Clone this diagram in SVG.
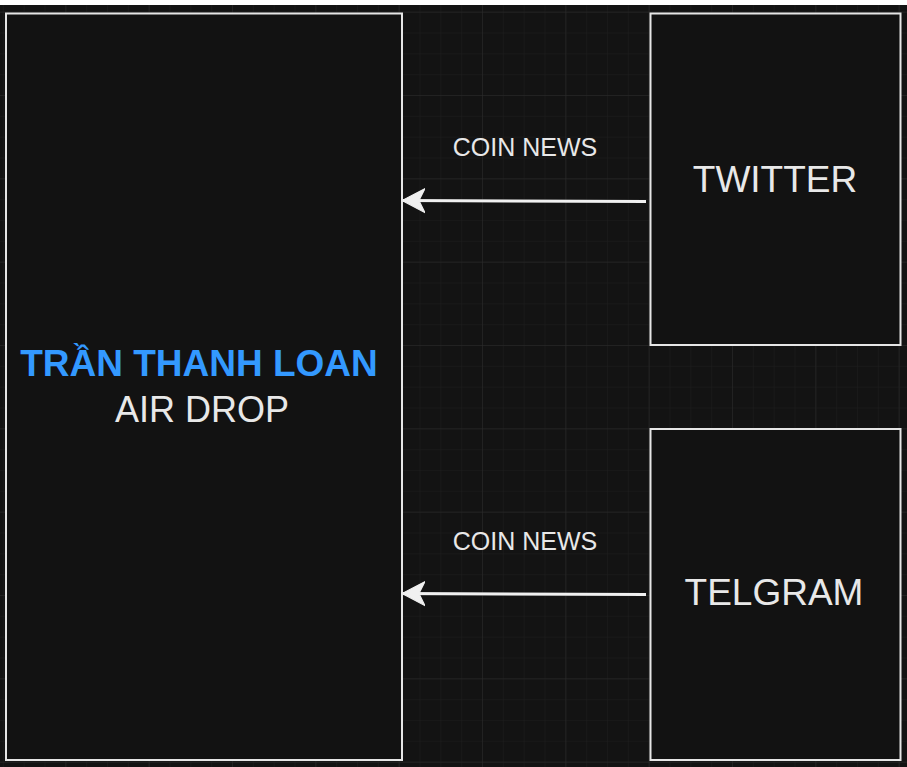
<svg xmlns="http://www.w3.org/2000/svg" width="907" height="767" viewBox="0 0 907 767">
  <defs>
    <pattern id="minor" x="2.83" y="11.67" width="20.833" height="20.833" patternUnits="userSpaceOnUse">
      <path d="M0 0 H20.833 M0 0 V20.833" fill="none" stroke="#1e1e1e" stroke-width="1"/>
    </pattern>
    <pattern id="major" x="65.33" y="11.67" width="83.333" height="83.333" patternUnits="userSpaceOnUse">
      <path d="M0 0 H83.333 M0 0 V83.333" fill="none" stroke="#2b2b2b" stroke-width="1"/>
    </pattern>
    <marker id="arrow" viewBox="0 0 24 26" refX="22" refY="13" markerWidth="24" markerHeight="26" markerUnits="userSpaceOnUse" orient="auto">
      <path d="M23 13 L0 1 L6 13 L0 25 Z" fill="#f0f0f0" stroke="#f0f0f0" stroke-width="1" stroke-linejoin="miter"/>
    </marker>
    <style>
      .box { fill: #121212; stroke: #e6e6e6; stroke-width: 2; }
      .edge { stroke: #f0f0f0; stroke-width: 3; fill: none; }
      .lbl { font-family: "Liberation Sans", Arial, sans-serif; fill: #e8e8e8; text-anchor: middle; }
    </style>
  </defs>
  <rect x="0" y="0" width="907" height="767" fill="#131313"/>
  <rect x="0" y="5" width="907" height="762" fill="url(#minor)"/>
  <rect x="0" y="5" width="907" height="762" fill="url(#major)"/>
  <rect x="0" y="0" width="907" height="5" fill="#ffffff"/>

  <g id="airdrop">
    <rect class="box" x="6" y="13.5" width="396" height="746.5"/>
    <text class="lbl" x="199" y="376" font-size="37" font-weight="bold" style="fill:#3399ff">TRẦN THANH LOAN</text>
    <text class="lbl" x="202" y="421.5" font-size="36">AIR DROP</text>
  </g>

  <g id="twitter">
    <rect class="box" x="650.5" y="13.5" width="250" height="331.5"/>
    <text class="lbl" x="775" y="191.5" font-size="37">TWITTER</text>
  </g>

  <g id="telegram">
    <rect class="box" x="650.5" y="429" width="250" height="331"/>
    <text class="lbl" x="774" y="605" font-size="37">TELGRAM</text>
  </g>

  <g id="connectors">
    <line class="edge" x1="646" y1="201.5" x2="403" y2="200.5" marker-end="url(#arrow)"/>
    <text class="lbl" x="525" y="155.5" font-size="25">COIN NEWS</text>
    <line class="edge" x1="646" y1="594.5" x2="403" y2="593.5" marker-end="url(#arrow)"/>
    <text class="lbl" x="525" y="550" font-size="25">COIN NEWS</text>
  </g>
</svg>
